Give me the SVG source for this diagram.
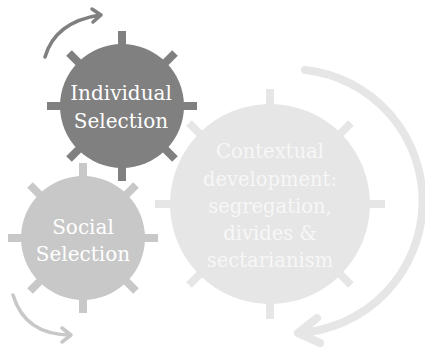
<svg xmlns="http://www.w3.org/2000/svg" width="425" height="347" viewBox="0 0 425 347">
<style>
.t{font-family:"DejaVu Serif",serif;font-size:20px;fill:#ffffff;text-anchor:middle}
.t3{fill:#f7f7f7;font-size:19.5px}
.arr{fill:none;stroke-linecap:round;stroke-linejoin:round}
</style>
<rect width="425" height="347" fill="#ffffff"/>
<g id="connectors">
<path class="arr" d="M45,57 Q55,22 100,15 M92,9 L101,15 L93,22" stroke="#808080" stroke-width="3.5"/>
<path class="arr" d="M13,295 Q25,335 71,335 M62,328 L71,335 L62,342" stroke="#c8c8c8" stroke-width="3.5"/>
<path class="arr" d="M305,70 A132,132 0 0 1 298,333 M317,318 L298,333 L320,343" stroke="#e6e6e6" stroke-width="8"/>
</g>
<g id="contextual">
<g stroke="#e6e6e6" stroke-width="8" transform="translate(270,204)">
<line x1="-115" y1="0" x2="115" y2="0"/>
<line x1="0" y1="-115" x2="0" y2="115"/>
<line x1="-81" y1="-81" x2="81" y2="81"/>
<line x1="-81" y1="81" x2="81" y2="-81"/>
</g>
<circle cx="270" cy="204" r="100" fill="#e6e6e6"/>
<text class="t t3" x="270" y="158">Contextual</text>
<text class="t t3" x="270" y="186">development:</text>
<text class="t t3" x="270" y="213">segregation,</text>
<text class="t t3" x="270" y="240">divides &amp;</text>
<text class="t t3" x="270" y="267">sectarianism</text>
</g>
<g id="social">
<g stroke="#c8c8c8" stroke-width="8" transform="translate(83,238)">
<line x1="-75" y1="0" x2="75" y2="0"/>
<line x1="0" y1="-75" x2="0" y2="75"/>
<line x1="-53" y1="-53" x2="53" y2="53"/>
<line x1="-53" y1="53" x2="53" y2="-53"/>
</g>
<circle cx="83" cy="238" r="62" fill="#c8c8c8"/>
<text class="t" x="83" y="234">Social</text>
<text class="t" x="83" y="261">Selection</text>
</g>
<g id="individual">
<g stroke="#808080" stroke-width="8" transform="translate(122,106)">
<line x1="-75" y1="0" x2="75" y2="0"/>
<line x1="0" y1="-75" x2="0" y2="75"/>
<line x1="-53" y1="-53" x2="53" y2="53"/>
<line x1="-53" y1="53" x2="53" y2="-53"/>
</g>
<circle cx="122" cy="106" r="62" fill="#808080"/>
<text class="t" x="121" y="100">Individual</text>
<text class="t" x="121" y="128">Selection</text>
</g>
</svg>
